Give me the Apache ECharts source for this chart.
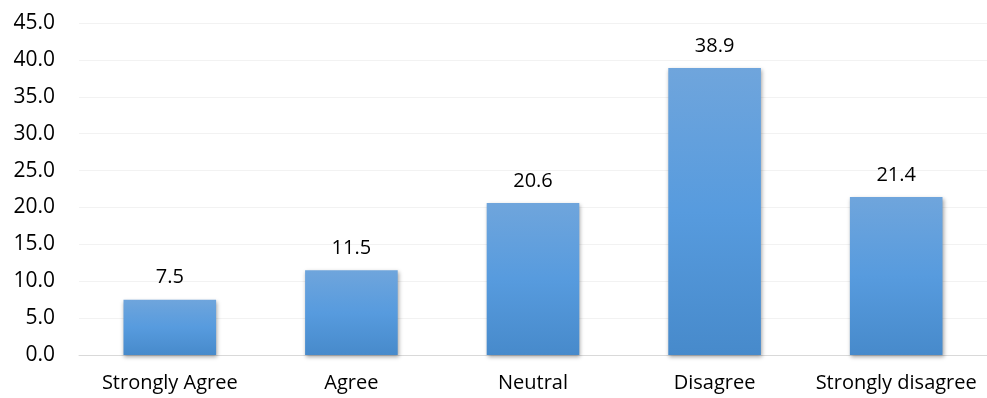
<!DOCTYPE html>
<html><head><meta charset="utf-8">
<script src="https://cdn.jsdelivr.net/npm/echarts@6/dist/echarts.min.js"></script>
<style>html,body{margin:0;padding:0;background:#fff}#c{width:987px;height:398px}</style>
</head><body><div id="c"></div>
<script>
const categories = ['Strongly Agree','Agree','Neutral','Disagree','Strongly disagree'];
const values = [7.5, 11.5, 20.6, 38.9, 21.4];
const yTicks = [0,5,10,15,20,25,30,35,40,45];

const chart = echarts.init(document.getElementById('c'));
const font = 'Open Sans, Noto Sans, sans-serif';
chart.setOption({
  animation:false,
  grid:{left:79,right:0,top:23,bottom:43},
  xAxis:{type:'category',data:categories,
    axisLine:{lineStyle:{color:'#d9d9d9',width:1}},axisTick:{show:false},
    axisLabel:{color:'#000',fontSize:20,fontFamily:font,margin:18,interval:0}},
  yAxis:{type:'value',min:yTicks[0],max:yTicks[yTicks.length-1],interval:5,
    axisLine:{show:false},axisTick:{show:false},
    splitLine:{lineStyle:{color:'#f2f2f2',width:1}},
    axisLabel:{color:'#000',fontSize:21,fontFamily:font,margin:24,formatter:v=>v.toFixed(1)}},
  series:[{type:'bar',data:values,barWidth:'51%',
    itemStyle:{color:new echarts.graphic.LinearGradient(0,0,0,1,[{offset:0,color:'#6fa5dc'},{offset:0.5,color:'#579bde'},{offset:1,color:'#478acb'}]),
      shadowColor:'rgba(0,0,0,0.35)',shadowBlur:4,shadowOffsetX:1,shadowOffsetY:2},
    label:{show:true,position:'top',distance:12,color:'#000',fontSize:20,fontFamily:font,formatter:p=>p.value.toFixed(1)}}]
});
</script></body></html>
